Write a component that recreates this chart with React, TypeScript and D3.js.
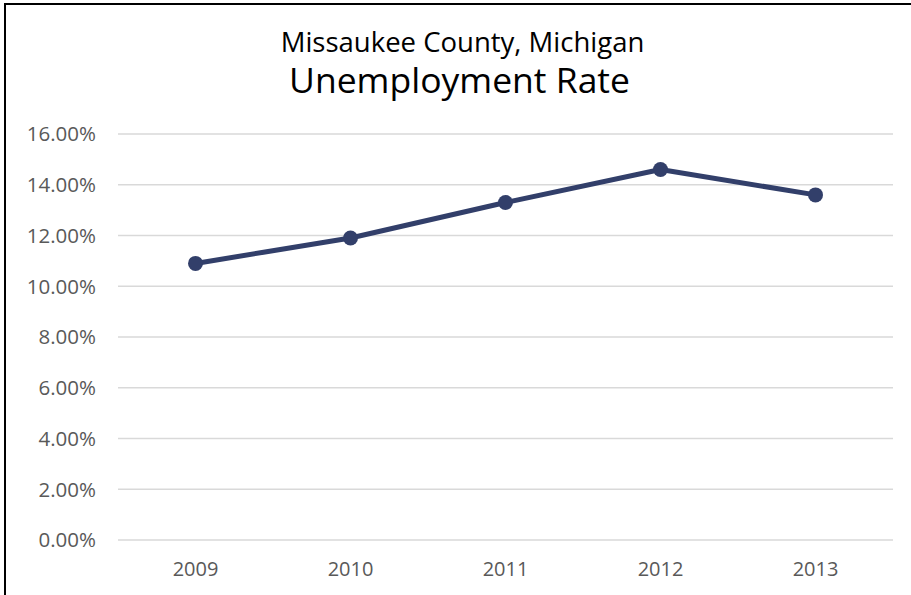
import React from "react";
import * as d3 from "d3";

const years = ["2009", "2010", "2011", "2012", "2013"];
const rates = [10.9, 11.9, 13.3, 14.6, 13.6];
const yTicks = [0, 2, 4, 6, 8, 10, 12, 14, 16];
const titleLine1 = "Missaukee County, Michigan";
const titleLine2 = "Unemployment Rate";

export default function App() {
  const W = 911;
  const H = 595;
  const left = 118;
  const right = 893;
  const top = 134;
  const bottom = 540;
  const x = d3.scaleBand<string>().domain(years).range([left, right]);
  const y = d3.scaleLinear().domain([0, 16]).range([bottom, top]);
  const line = d3
    .line<number>()
    .x((_, i) => (x(years[i]) as number) + x.bandwidth() / 2)
    .y((d) => y(d));
  const font = "'Open Sans', 'Noto Sans', sans-serif";
  const color = "#323F6A";
  return (
    <svg
      width={W}
      height={H}
      style={{ position: "absolute", left: 0, top: 0, background: "#fff" }}
    >
      <rect x={0} y={0} width={W} height={H} fill="#fff" />
      <rect x={5} y={4} width={W + 10} height={H + 10} fill="none" stroke="#000" strokeWidth={2} />
      <text x={462.5} y={52} textAnchor="middle" fontFamily={font} fontSize={27.5} fill="#000">
        {titleLine1}
      </text>
      <text x={459.5} y={93} textAnchor="middle" fontFamily={font} fontSize={35.5} fill="#000">
        {titleLine2}
      </text>
      {yTicks.map((t) => (
        <g key={t}>
          <line x1={left} x2={right} y1={y(t)} y2={y(t)} stroke="#d9d9d9" strokeWidth={1.5} />
          <text
            x={96}
            y={y(t)}
            dy={7.3}
            textAnchor="end"
            fontFamily={font}
            fontSize={20.5}
            fill="#595959"
          >
            {t.toFixed(2) + "%"}
          </text>
        </g>
      ))}
      {years.map((yr) => (
        <text
          key={yr}
          x={(x(yr) as number) + x.bandwidth() / 2}
          y={576}
          textAnchor="middle"
          fontFamily={font}
          fontSize={20}
          fill="#595959"
        >
          {yr}
        </text>
      ))}
      <path d={line(rates) || ""} fill="none" stroke={color} strokeWidth={5} strokeLinejoin="round" />
      {rates.map((r, i) => (
        <circle
          key={i}
          cx={(x(years[i]) as number) + x.bandwidth() / 2}
          cy={y(r)}
          r={7.5}
          fill={color}
        />
      ))}
    </svg>
  );
}
